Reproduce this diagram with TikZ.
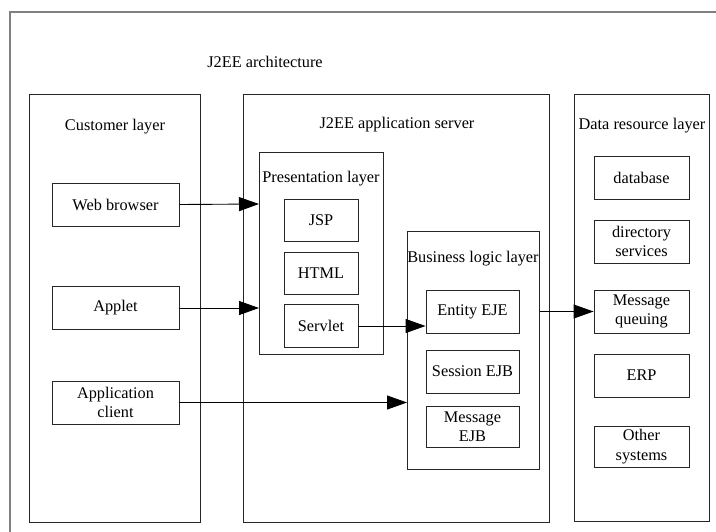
\documentclass[tikz,border=0pt]{standalone}
\usepackage{fontspec}
\setmainfont{Liberation Serif}
\usetikzlibrary{arrows.meta}
\begin{document}
\begin{tikzpicture}[x=1pt,y=-1pt,
  txt/.style={font=\fontsize{16.3}{19.5}\selectfont, inner sep=0pt, align=center},
  box/.style={draw=black!85, line width=0.9pt, inner sep=0pt, txt},
  container/.style={box, anchor=north west},
  item/.style={box, minimum width=#1},
  conn/.style={draw=black, line width=0.9pt, -{Triangle[length=20pt,width=14pt]}}
]
\useasboundingbox (0,0) rectangle (716,531);
\fill[white] (0,0) rectangle (716,531);
% outer frame
\draw[gray, line width=1.3pt] (10,540) -- (10,12) -- (730,12);
\node[txt] (title) at (265,62) {J2EE architecture};

% containers
\node[container, minimum width=171pt, minimum height=427.5pt] (cust) at (29,94) {};
\node[container, minimum width=306pt, minimum height=427.5pt] (srv) at (243,94) {};
\node[container, minimum width=135pt, minimum height=427pt] (data) at (574,94) {};
\node[container, minimum width=124pt, minimum height=202pt] (pres) at (259,152) {};
\node[container, minimum width=132pt, minimum height=238pt] (biz) at (407,231) {};

\node[txt] (custlbl) at (115,127) {Customer layer};
\node[txt] (srvlbl) at (397,125) {J2EE application server};
\node[txt] (datalbl) at (642,126) {Data resource layer};
\node[txt] (preslbl) at (321,179) {Presentation layer};
\node[txt] (bizlbl) at (473,259) {Business logic layer};

% customer layer
\node[item=127pt, minimum height=43pt] (web) at (115.5,204.5) {Web browser};
\node[item=127pt, minimum height=43pt] (applet) at (115.5,308) {Applet};
\node[item=127pt, minimum height=43pt] (appc) at (115.5,402.5) {Application\\client};

% presentation
\node[item=74pt, minimum height=42pt] (jsp) at (321,220) {JSP};
\node[item=74pt, minimum height=42pt] (html) at (321,273.5) {HTML};
\node[item=74pt, minimum height=43pt] (servlet) at (321,326) {Servlet};

% business
\node[item=93pt, minimum height=43pt] (entity) at (472.5,311.5) {Entity EJE};
\node[item=93pt, minimum height=43pt] (session) at (472.5,371.5) {Session EJB};
\node[item=93pt, minimum height=41pt] (msg) at (472.5,426.5) {Message\\EJB};

% data
\node[item=95pt, minimum height=43pt] (db) at (641.5,177.5) {database};
\node[item=95pt, minimum height=43pt] (dir) at (641.5,241.5) {directory\\services};
\node[item=95pt, minimum height=43pt] (mq) at (641.5,311.5) {Message\\queuing};
\node[item=95pt, minimum height=43pt] (erp) at (641.5,375.5) {ERP};
\node[item=95pt, minimum height=41pt] (other) at (641.5,446.5) {Other\\systems};

% connectors
\coordinate (pin1) at (pres.west |- 0,204);
\draw[conn] (web.east) -- (pin1);
\draw[conn] (applet.east) -- (pres.west |- applet.east);
\draw[conn] (appc.east) -- (biz.west |- appc.east);
\draw[conn] (servlet.east) -- (entity.west |- servlet.east);
\draw[conn] (biz.east |- mq.west) -- (mq.west);
\end{tikzpicture}
\end{document}
